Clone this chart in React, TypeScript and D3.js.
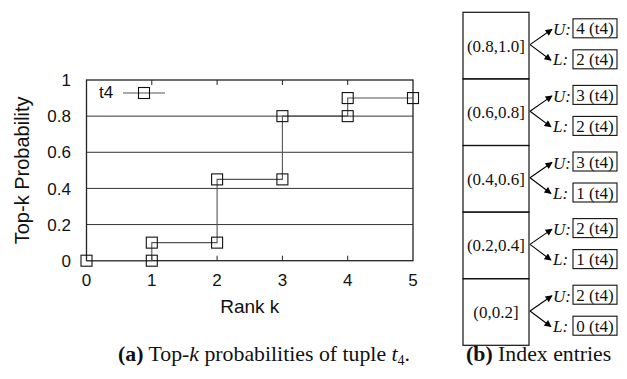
import React from "react";
import * as d3 from "d3";

// step curve of tuple t4
const ranks = [0, 1, 1, 2, 2, 3, 3, 4, 4, 5];
const probs = [0, 0, 0.1, 0.1, 0.45, 0.45, 0.8, 0.8, 0.9, 0.9];
const xTicks = [0, 1, 2, 3, 4, 5];
const yTicks = [0, 0.2, 0.4, 0.6, 0.8, 1];
const yTickLabels = ["0", "0.2", "0.4", "0.6", "0.8", "1"];

// index entries
const ranges = ["(0.8,1.0]", "(0.6,0.8]", "(0.4,0.6]", "(0.2,0.4]", "(0,0.2]"];
const upperVals = ["4 (t4)", "3 (t4)", "3 (t4)", "2 (t4)", "2 (t4)"];
const lowerVals = ["2 (t4)", "2 (t4)", "1 (t4)", "1 (t4)", "0 (t4)"];

const sans = "'Liberation Sans', Arial, Helvetica, sans-serif";
const serif = "'Liberation Serif', 'Times New Roman', serif";

const W = 627;
const H = 379;

export default function App() {
  const x = d3.scaleLinear().domain([0, 5]).range([86.5, 413]);
  const y = d3.scaleLinear().domain([0, 1]).range([260.7, 80]);
  const pts = ranks.map((r, i) => [x(r), y(probs[i])] as [number, number]);
  const line = d3.line()(pts) || "";

  const band = d3.scaleBand<string>().domain(ranges).range([12.3, 345.3]);
  const cellX = 463;
  const cellW = 66;
  const boxX = 573;
  const boxW = 44;
  const ms = 5.5;

  const marker = (cx: number, cy: number, k: string) => (
    <rect key={k} x={cx - ms} y={cy - ms} width={ms * 2} height={ms * 2}
      fill="none" stroke="#111" strokeWidth={1.1} />
  );

  return (
    <svg width={W} height={H} style={{ position: "absolute", left: 0, top: 0 }}>
      <defs>
        <marker id="ah" viewBox="0 0 10 10" refX="9" refY="5" markerWidth="9" markerHeight="7"
          markerUnits="userSpaceOnUse" orient="auto">
          <path d="M0,0 L10,5 L0,10 Z" fill="#000" />
        </marker>
      </defs>
      <rect width={W} height={H} fill="#fff" />

      {/* grid */}
      {yTicks.slice(1, -1).map(t => (
        <line key={"g" + t} x1={x(0)} x2={x(5)} y1={y(t)} y2={y(t)} stroke="#333" strokeWidth={1} />
      ))}
      {/* x ticks top/bottom */}
      {xTicks.slice(1, -1).map(t => (
        <g key={"xt" + t} stroke="#222" strokeWidth={1}>
          <line x1={x(t)} x2={x(t)} y1={y(0)} y2={y(0) - 5} />
          <line x1={x(t)} x2={x(t)} y1={y(1)} y2={y(1) + 5} />
        </g>
      ))}
      <rect x={x(0)} y={y(1)} width={x(5) - x(0)} height={y(0) - y(1)} fill="none" stroke="#222" strokeWidth={1.3} />

      {/* tick labels */}
      {yTicks.map((t, i) => (
        <text key={"yl" + t} x={71} y={y(t)} dy="0.36em" textAnchor="end" fontFamily={sans} fontSize={17} fill="#111">
          {yTickLabels[i]}
        </text>
      ))}
      {xTicks.map(t => (
        <text key={"xl" + t} x={x(t)} y={286} textAnchor="middle" fontFamily={sans} fontSize={17} fill="#111">
          {t}
        </text>
      ))}
      <text x={(x(0) + x(5)) / 2} y={313} textAnchor="middle" fontFamily={sans} fontSize={19} fill="#111">Rank k</text>
      <text transform={`translate(29,${(y(0) + y(1)) / 2}) rotate(-90)`} textAnchor="middle" fontFamily={sans} fontSize={20} fill="#111">
        Top-k Probability
      </text>

      {/* series */}
      <path d={line} fill="none" stroke="#555" strokeWidth={1.1} />
      {pts.map((p, i) => marker(p[0], p[1], "m" + i))}

      {/* legend */}
      <text x={99} y={98} fontFamily={sans} fontSize={17} fill="#111">t4</text>
      <line x1={123} x2={165} y1={93} y2={93} stroke="#555" strokeWidth={1.1} />
      {marker(144, 93, "lg")}

      {/* index entries */}
      {ranges.map((r, i) => {
        const top = band(r) as number;
        const bh = band.bandwidth();
        const oy = top + bh / 2;
        return (
          <g key={r}>
            <rect x={cellX} y={top} width={cellW} height={bh} fill="none" stroke="#111" strokeWidth={1.2} />
            <text x={cellX + cellW / 2} y={oy + 6} textAnchor="middle" fontFamily={serif} fontSize={17} fill="#111">{r}</text>
            <line x1={cellX + cellW + 1} y1={oy - 1} x2={552} y2={top + 17} stroke="#000" strokeWidth={1.1} markerEnd="url(#ah)" />
            <line x1={cellX + cellW + 1} y1={oy - 1} x2={551} y2={top + 48} stroke="#000" strokeWidth={1.1} markerEnd="url(#ah)" />
            <text x={553} y={top + 23} fontFamily={serif} fontStyle="italic" fontSize={17} fill="#111">U:</text>
            <text x={553} y={top + 53} fontFamily={serif} fontStyle="italic" fontSize={17} fill="#111">L:</text>
            <rect x={boxX} y={top + 6.5} width={boxW} height={19} fill="none" stroke="#111" strokeWidth={1.1} />
            <text x={boxX + boxW / 2} y={top + 22} textAnchor="middle" fontFamily={serif} fontSize={17} fill="#111">{upperVals[i]}</text>
            <rect x={boxX} y={top + 37.5} width={boxW} height={19} fill="none" stroke="#111" strokeWidth={1.1} />
            <text x={boxX + boxW / 2} y={top + 53} textAnchor="middle" fontFamily={serif} fontSize={17} fill="#111">{lowerVals[i]}</text>
          </g>
        );
      })}

      {/* captions */}
      <text x={118} y={361} fontFamily={serif} fontSize={21.8} fill="#111">
        <tspan fontWeight="bold">(a)</tspan>
        <tspan> Top-</tspan>
        <tspan fontStyle="italic">k</tspan>
        <tspan> probabilities of tuple </tspan>
        <tspan fontStyle="italic">t</tspan>
        <tspan fontSize={14} dy={4}>4</tspan>
        <tspan dy={-4}>.</tspan>
      </text>
      <text x={466} y={361} fontFamily={serif} fontSize={21.8} fill="#111">
        <tspan fontWeight="bold">(b)</tspan>
        <tspan> Index entries</tspan>
      </text>
    </svg>
  );
}
